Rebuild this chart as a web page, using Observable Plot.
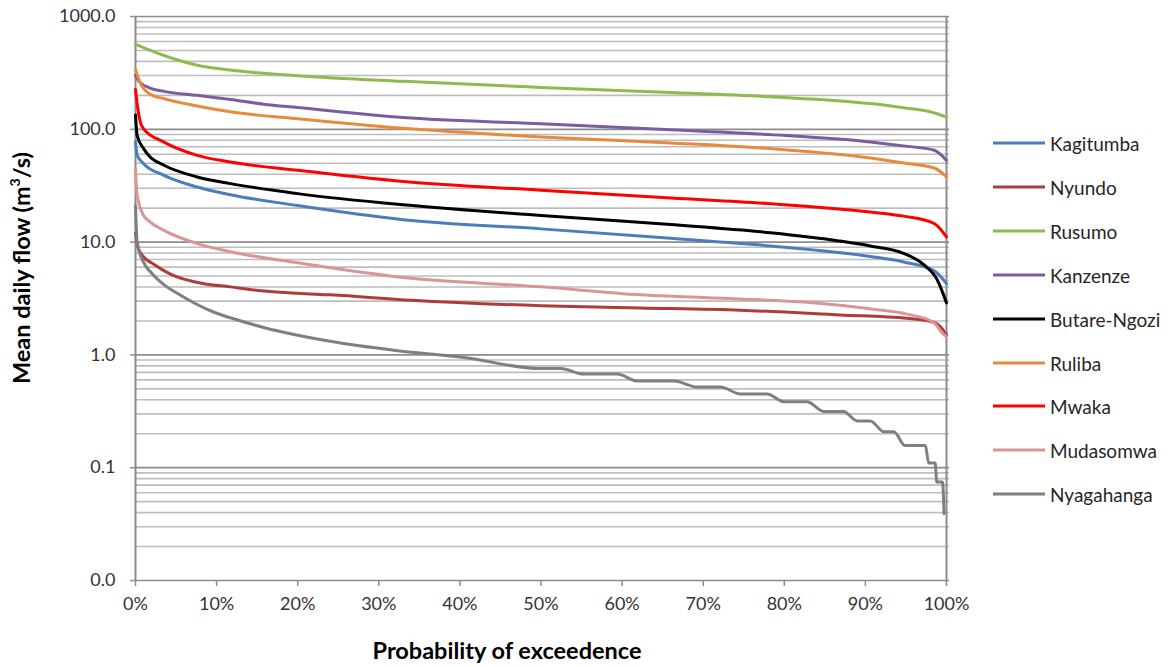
<!DOCTYPE html>
<html>
<head>
<meta charset="utf-8">
<script src="https://cdn.jsdelivr.net/npm/d3@7"></script>
<script src="https://cdn.jsdelivr.net/npm/@observablehq/plot@0.6"></script>
<style>
  html, body { margin: 0; padding: 0; background: #fff; }
  #wrap { position: relative; width: 1171px; height: 667px; font-family: Lato, "Open Sans", sans-serif; }
  #wrap svg { position: absolute; left: 0; top: 0; }
  .ytitle { position: absolute; left: 21px; top: 268px; transform: translate(-50%, -50%) rotate(-90deg); white-space: nowrap; font-weight: bold; font-size: 23.5px; color: #000; }
  .xtitle { position: absolute; left: 507px; top: 650px; transform: translate(-50%, -50%); white-space: nowrap; font-weight: bold; font-size: 23.5px; color: #000; }
  .legend { position: absolute; left: 993px; top: 0; }
  .legend .row { position: absolute; left: 0; display: flex; align-items: center; transform: translateY(-50%); white-space: nowrap; font-size: 19px; color: #262626; }
  .legend .sw { width: 52px; height: 3px; margin-right: 5px; }
</style>
</head>
<body>
<div id="wrap"></div>
<script>
// Series names and colours (legend order)
const seriesNames = ["Kagitumba", "Nyundo", "Rusumo", "Kanzenze", "Butare-Ngozi", "Ruliba", "Mwaka", "Mudasomwa", "Nyagahanga"];
const seriesColors = ["#4a7ebb", "#b03c3a", "#8fba50", "#7a5ca0", "#000000", "#e88a3c", "#ff0000", "#d99694", "#7f7f7f"];

// [probability of exceedence %, mean daily flow m3/s]
const kagitumba = [[0,77.3],[0.2,58.8],[1,49.6],[3.5,39.1],[7.6,30.8],[11.7,26.3],[20,21.1],[33,15.8],[50,13.1],[66,10.8],[78.3,9.25],[90.6,7.46],[94.7,6.67],[98.5,5.56],[100,4.28]];
const nyundo = [[0,12],[0.3,9],[0.8,7.7],[2.3,6.33],[4.3,5.2],[8.4,4.28],[11.7,4.01],[14.6,3.76],[20,3.52],[24,3.41],[34,3.05],[50,2.73],[62.3,2.61],[74.6,2.49],[86.9,2.26],[95.1,2.11],[98.4,1.95],[99.6,1.66],[100,1.5]];
const rusumo = [[0,565],[3.5,451],[7.6,370],[11.7,335],[20,299],[33,266],[50,235],[66,212],[78.3,194],[90.6,169],[94.7,155],[98,143],[100,128]];
const kanzenze = [[0,303],[0.5,262],[1.8,232],[3.5,217],[7.6,200],[11.7,184],[15.8,167],[20,156],[33,127],[50,112],[66,99],[78.3,89.7],[90.6,77.3],[94.7,71.3],[98.5,65.2],[100,53]];
const butareNgozi = [[0,134],[0.2,88.5],[1,67.4],[1.8,56.9],[3.5,48],[7.6,37.8],[11.7,33],[20,26.9],[33,21.4],[50,17.2],[66,14.3],[78.3,12.1],[86.5,10.3],[90.6,9.25],[94.7,7.96],[97.2,6.3],[98.9,4.57],[100,2.89]];
const ruliba = [[0,340],[0.6,257],[1.8,205],[3.5,187],[7.6,161],[11.7,143],[20,124],[33,102],[50,85.6],[66,75.7],[78.3,67.4],[90.6,55.7],[94.7,50.3],[98.5,45.4],[100,37.8]];
const mwaka = [[0,225],[0.3,150],[0.6,116],[1,101],[3.5,77],[7.6,58.8],[11.7,51.3],[20,43.3],[33,34.5],[50,28.8],[66,24.6],[78.3,21.9],[90.6,18.5],[94.7,17],[98.5,14.6],[100,11.1]];
const mudasomwa = [[0,44.7],[0.2,26],[1,17.2],[1.8,15.1],[3.5,12.7],[7.6,9.7],[11.7,8.22],[20,6.55],[33,4.85],[50,4.01],[62.3,3.41],[74.6,3.13],[82.8,2.93],[91,2.54],[95.1,2.3],[98.4,1.95],[99.6,1.53],[100,1.45]];
const nyagahanga = [[0,21],[0.2,10],[1,6.6],[2,5.3],[3.5,4.2],[5.5,3.4],[7.6,2.8],[9.6,2.4],[12,2.1],[15.8,1.75],[24,1.32],[32.3,1.09],[40.5,0.95],[49.9,0.757],[52.4,0.757],[55.3,0.676],[59.4,0.676],[61.9,0.586],[66.4,0.586],[69.3,0.519],[72.1,0.519],[74.6,0.451],[77.9,0.451],[79.9,0.385],[82.8,0.385],[84.9,0.315],[87.3,0.315],[89,0.26],[90.6,0.26],[92.3,0.208],[93.5,0.208],[94.9,0.157],[97.4,0.157],[97.8,0.11],[98.6,0.11],[98.8,0.0747],[99.5,0.0747],[99.7,0.039]];

const seriesData = [kagitumba, nyundo, rusumo, kanzenze, butareNgozi, ruliba, mwaka, mudasomwa, nyagahanga];

// Axis ticks
const yMajorTicks = [0.01, 0.1, 1, 10, 100, 1000];
const yMinorTicks = [0.01, 0.1, 1, 10, 100].flatMap(b => [2,3,4,5,6,7,8,9].map(m => +(b * m).toPrecision(3)));
const xTicks = [0, 10, 20, 30, 40, 50, 60, 70, 80, 90, 100];

const rows = seriesNames.flatMap((name, i) => seriesData[i].map(([p, q]) => ({series: name, p, q})));

const chart = Plot.plot({
  width: 1171,
  height: 667,
  marginLeft: 135,
  marginRight: 225,
  marginTop: 16,
  marginBottom: 87,
  style: {fontFamily: "Lato, 'Open Sans', sans-serif", fontSize: "18px", color: "#333", background: "transparent"},
  x: {domain: [0, 100]},
  y: {type: "log", domain: [0.01, 1000]},
  color: {domain: seriesNames, range: seriesColors},
  marks: [
    Plot.ruleY(yMinorTicks, {stroke: "#bdbdbd", strokeWidth: 1.6, insetRight: -3}),
    Plot.ruleY(yMajorTicks, {stroke: "#8c8c8c", strokeWidth: 1.7, insetRight: -3}),
    Plot.ruleX([0, 100], {stroke: "#8c8c8c", strokeWidth: 2}),
    Plot.axisY({ticks: yMajorTicks, tickFormat: d => d.toFixed(1), tickSize: 5, tickPadding: 15, stroke: "#8c8c8c", strokeWidth: 1.5, label: null}),
    Plot.axisX({ticks: xTicks, tickFormat: d => d + "%", tickSize: 6, tickPadding: 11, stroke: "#8c8c8c", strokeWidth: 1.5, label: null}),
    Plot.line(rows, {x: "p", y: "q", z: "series", stroke: "series", strokeWidth: 3, curve: "monotone-x"})
  ]
});

const wrap = document.getElementById("wrap");
wrap.appendChild(chart);

const yt = document.createElement("div");
yt.className = "ytitle";
yt.innerHTML = "Mean daily flow (m<sup style='font-size:0.6em;vertical-align:0.7em;line-height:0'>3</sup>/s)";
wrap.appendChild(yt);

const xt = document.createElement("div");
xt.className = "xtitle";
xt.textContent = "Probability of exceedence";
wrap.appendChild(xt);

const legend = document.createElement("div");
legend.className = "legend";
const legendTops = [143, 187, 231, 275, 319, 363, 406, 450, 494];
seriesNames.forEach((name, i) => {
  const row = document.createElement("div");
  row.className = "row";
  row.style.top = legendTops[i] + "px";
  const sw = document.createElement("span");
  sw.className = "sw";
  sw.style.background = seriesColors[i];
  const tx = document.createElement("span");
  tx.textContent = name;
  row.appendChild(sw);
  row.appendChild(tx);
  legend.appendChild(row);
});
wrap.appendChild(legend);
</script>
</body>
</html>
